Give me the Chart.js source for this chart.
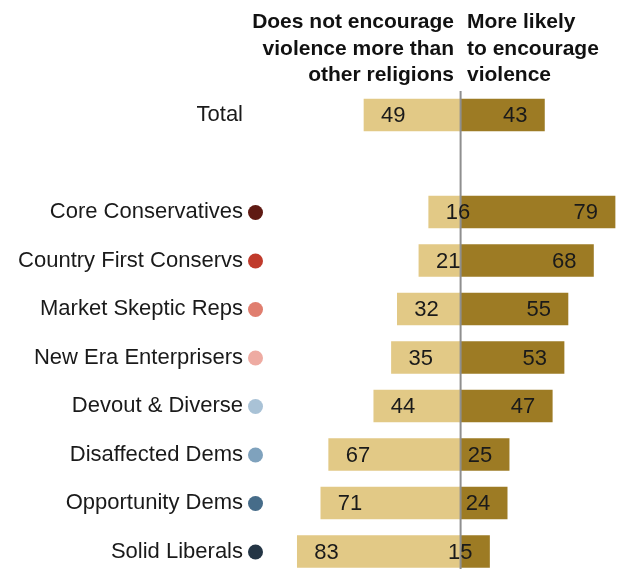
<!DOCTYPE html>
<html>
<head>
<meta charset="utf-8">
<script src="https://cdn.jsdelivr.net/npm/chart.js@4"></script>
<style>
  html, body { margin: 0; padding: 0; background: #fff; }
  #wrap { width: 618px; height: 569px; position: relative; }
</style>
</head>
<body>
<div id="wrap"><canvas id="c" width="618" height="569"></canvas></div>
<script>
const categories = ["Total", "", "Core Conservatives", "Country First Conservs", "Market Skeptic Reps",
  "New Era Enterprisers", "Devout & Diverse", "Disaffected Dems", "Opportunity Dems", "Solid Liberals"];
const doesNotEncourage = [49, null, 16, 21, 32, 35, 44, 67, 71, 83];
const moreLikely = [43, null, 79, 68, 55, 53, 47, 25, 24, 15];
const dotColors = [null, null, "#5f1a13", "#c03a2b", "#e07e6f", "#eeaba2", "#a9c2d6", "#7fa2bd", "#466c89", "#243545"];
const headerLeft = ["Does not encourage", "violence more than", "other religions"];
const headerRight = ["More likely", "to encourage", "violence"];

const LIGHT = "#e2c986";
const DARK = "#9d7b24";

const overlay = {
  id: "overlay",
  afterDatasetsDraw(chart) {
    const ctx = chart.ctx;
    const x = chart.scales.x, y = chart.scales.y;
    const zero = x.getPixelForValue(0);
    ctx.save();
    ctx.strokeStyle = "#8f8f8f";
    ctx.lineWidth = 2;
    ctx.beginPath();
    ctx.moveTo(zero + 0.5, 91);
    ctx.lineTo(zero + 0.5, 569);
    ctx.stroke();
    ctx.font = "22px 'Liberation Sans', Arial, sans-serif";
    ctx.fillStyle = "#1a1a1a";
    ctx.textBaseline = "middle";
    categories.forEach((c, i) => {
      const cy = y.getPixelForValue(i);
      if (doesNotEncourage[i] != null) {
        ctx.textAlign = "left";
        ctx.fillText(String(doesNotEncourage[i]), x.getPixelForValue(-doesNotEncourage[i]) + 17, cy + 1);
      }
      if (moreLikely[i] != null) {
        ctx.textAlign = "right";
        ctx.fillText(String(moreLikely[i]), x.getPixelForValue(moreLikely[i]) - 17, cy + 1);
      }
      if (dotColors[i]) {
        ctx.fillStyle = dotColors[i];
        ctx.beginPath();
        ctx.arc(255.5, cy + 0.5, 7.5, 0, Math.PI * 2);
        ctx.fill();
        ctx.fillStyle = "#1a1a1a";
      }
    });
    ctx.font = "bold 21px 'Liberation Sans', Arial, sans-serif";
    ctx.fillStyle = "#111";
    ctx.textBaseline = "alphabetic";
    headerLeft.forEach((t, k) => {
      ctx.textAlign = "right";
      ctx.fillText(t, 454, 28 + k * 26.5);
    });
    headerRight.forEach((t, k) => {
      ctx.textAlign = "left";
      ctx.fillText(t, 467, 28 + k * 26.5);
    });
    ctx.restore();
  }
};

new Chart(document.getElementById("c"), {
  type: "bar",
  data: {
    labels: categories,
    datasets: [
      { label: "Does not encourage", data: doesNotEncourage.map(v => v == null ? null : -v),
        backgroundColor: LIGHT, barThickness: 32, clip: false },
      { label: "More likely to encourage", data: moreLikely,
        backgroundColor: DARK, barThickness: 32, clip: false }
    ]
  },
  options: {
    indexAxis: "y",
    responsive: false,
    animation: false,
    layout: { padding: { top: 115, bottom: 17.5, left: 0, right: 1 } },
    plugins: { legend: { display: false }, tooltip: { enabled: false } },
    scales: {
      x: { stacked: true, min: -88, max: 80, display: false },
      y: {
        stacked: true,
        offset: false,
        grid: { display: false, drawTicks: false },
        border: { display: false },
        ticks: {
          padding: 44.5,
          color: "#1a1a1a",
          font: { family: "'Liberation Sans', Arial, sans-serif", size: 22 }
        },
        afterFit(scale) {
          scale.width = 287.5;
          scale.paddingTop = 0;
          scale.paddingBottom = 0;
        }
      }
    }
  },
  plugins: [overlay]
});
</script>
</body>
</html>
